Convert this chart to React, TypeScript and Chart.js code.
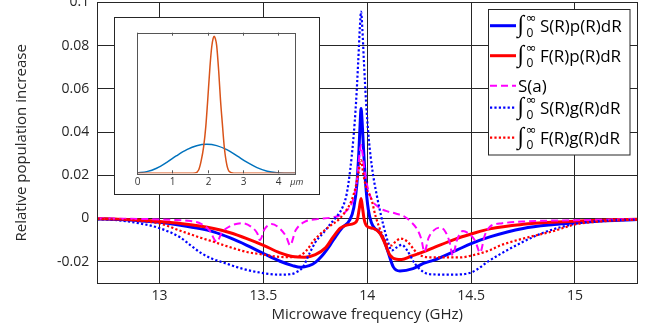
import React, { useEffect, useRef } from "react";
import { Chart, registerables } from "chart.js";

Chart.register(...registerables);

// ---------- axis ticks / labels ----------
const xTickValues = [13, 13.5, 14, 14.5, 15];
const yTickValues = [-0.02, 0, 0.02, 0.04, 0.06, 0.08, 0.1];
const xTitle = "Microwave frequency (GHz)";
const yTitle = "Relative population increase";

// ---------- series: ∫S(R)p(R)dR (blue solid) ----------
const spFreq = [12.7, 12.8, 12.9, 13.0, 13.1, 13.2, 13.26, 13.34, 13.42, 13.5, 13.58, 13.64, 13.68, 13.72, 13.75, 13.78, 13.82, 13.85, 13.88, 13.915, 13.935, 13.95, 13.96, 13.966, 13.97, 13.975, 13.982, 13.992, 14.005, 14.02, 14.035, 14.055, 14.077, 14.1, 14.125, 14.157, 14.22, 14.27, 14.32, 14.43, 14.5, 14.59, 14.75, 14.9, 15.0, 15.15, 15.3];
const spVals = [-0.0002, -0.0005, -0.001, -0.0018, -0.0031, -0.0048, -0.0062, -0.009, -0.0124, -0.0162, -0.0198, -0.0218, -0.0226, -0.0218, -0.0203, -0.0175, -0.0124, -0.008, -0.0042, -0.0008, 0.005, 0.016, 0.032, 0.045, 0.0509, 0.045, 0.032, 0.016, 0.004, -0.002, -0.0045, -0.006, -0.0093, -0.0155, -0.0224, -0.0243, -0.0232, -0.0208, -0.0193, -0.0147, -0.0116, -0.0085, -0.0046, -0.0028, -0.002, -0.001, -0.0005];

// ---------- series: ∫F(R)p(R)dR (red solid) ----------
const fpFreq = [12.7, 12.8, 12.9, 13.0, 13.1, 13.26, 13.34, 13.42, 13.5, 13.58, 13.64, 13.7, 13.75, 13.8, 13.836, 13.87, 13.9, 13.935, 13.952, 13.962, 13.97, 13.977, 13.985, 13.997, 14.029, 14.061, 14.085, 14.109, 14.141, 14.165, 14.21, 14.27, 14.32, 14.43, 14.5, 14.59, 14.75, 14.9, 15.0, 15.15, 15.3];
const fpVals = [-0.0001, -0.0003, -0.0007, -0.0014, -0.0023, -0.0046, -0.0066, -0.0093, -0.0124, -0.0159, -0.0176, -0.0179, -0.0167, -0.0135, -0.0085, -0.0045, -0.0031, -0.0023, -0.0005, 0.005, 0.0093, 0.005, -0.0005, -0.0035, -0.0046, -0.0069, -0.0116, -0.017, -0.0189, -0.019, -0.0175, -0.0155, -0.0135, -0.0093, -0.0072, -0.0048, -0.0027, -0.0017, -0.0013, -0.0007, -0.0004];

// ---------- series: S(a) (magenta dashed) ----------
const saFreq = [12.7, 12.9, 13.05, 13.15, 13.2, 13.24, 13.275, 13.3, 13.34, 13.4, 13.44, 13.47, 13.483, 13.505, 13.54, 13.58, 13.61, 13.628, 13.655, 13.7, 13.76, 13.82, 13.87, 13.9, 13.925, 13.945, 13.955, 13.963, 13.97, 13.977, 13.987, 14.0, 14.02, 14.05, 14.09, 14.14, 14.18, 14.21, 14.24, 14.26, 14.275, 14.295, 14.32, 14.35, 14.375, 14.395, 14.412, 14.43, 14.46, 14.495, 14.52, 14.543, 14.565, 14.59, 14.65, 14.75, 15.0, 15.3];
const saVals = [0, -0.0002, -0.0006, -0.0012, -0.0025, -0.0055, -0.0108, -0.0065, -0.0035, -0.0022, -0.0038, -0.0068, -0.01, -0.005, -0.0026, -0.0048, -0.0085, -0.0124, -0.0055, -0.0015, -0.0003, 0.0003, 0.0015, 0.0035, 0.007, 0.014, 0.022, 0.03, 0.034, 0.03, 0.022, 0.015, 0.009, 0.0055, 0.0035, 0.0022, 0.0008, -0.0015, -0.005, -0.0095, -0.0155, -0.009, -0.0055, -0.0042, -0.006, -0.0105, -0.0172, -0.0105, -0.0058, -0.0075, -0.0105, -0.0158, -0.008, -0.0038, -0.0022, -0.0014, -0.0008, -0.0003];

// ---------- series: ∫S(R)g(R)dR (blue dotted) ----------
const sgFreq = [12.7, 12.8, 12.9, 13.0, 13.1, 13.15, 13.2, 13.25, 13.31, 13.4, 13.5, 13.58, 13.63, 13.66, 13.69, 13.72, 13.75, 13.79, 13.82, 13.853, 13.88, 13.9, 13.917, 13.933, 13.946, 13.956, 13.964, 13.97, 13.976, 13.984, 13.994, 14.007, 14.025, 14.045, 14.06, 14.077, 14.1, 14.118, 14.14, 14.166, 14.19, 14.23, 14.27, 14.3, 14.4, 14.46, 14.5, 14.53, 14.58, 14.64, 14.75, 14.85, 15.0, 15.15, 15.3];
const sgVals = [-0.0003, -0.0008, -0.0022, -0.0045, -0.0088, -0.0125, -0.016, -0.0185, -0.0205, -0.0233, -0.0253, -0.026, -0.0258, -0.0248, -0.0225, -0.0165, -0.011, -0.0065, -0.0028, 0.001, 0.005, 0.011, 0.022, 0.037, 0.054, 0.072, 0.088, 0.0957, 0.088, 0.072, 0.054, 0.037, 0.022, 0.011, 0.004, -0.003, -0.011, -0.0148, -0.0135, -0.0122, -0.0145, -0.021, -0.0247, -0.0258, -0.026, -0.0258, -0.025, -0.0235, -0.02, -0.0165, -0.0108, -0.0065, -0.0025, -0.001, -0.0005];

// ---------- series: ∫F(R)g(R)dR (red dotted) ----------
const fgFreq = [12.7, 12.8, 12.9, 13.0, 13.1, 13.2, 13.26, 13.31, 13.42, 13.5, 13.58, 13.63, 13.676, 13.71, 13.74, 13.77, 13.82, 13.87, 13.9, 13.925, 13.945, 13.957, 13.97, 13.98, 13.993, 14.021, 14.04, 14.07, 14.1, 14.115, 14.135, 14.16, 14.19, 14.24, 14.27, 14.3, 14.45, 14.5, 14.59, 14.64, 14.75, 14.89, 15.0, 15.15, 15.3];
const fgVals = [-0.0002, -0.0005, -0.0011, -0.0023, -0.0057, -0.009, -0.0108, -0.0124, -0.0155, -0.0167, -0.0178, -0.0179, -0.0172, -0.0145, -0.0105, -0.0075, -0.0035, 0.0002, 0.004, 0.0085, 0.015, 0.021, 0.027, 0.021, 0.015, 0.0085, 0.001, -0.007, -0.0122, -0.0125, -0.0108, -0.0093, -0.0105, -0.016, -0.0176, -0.018, -0.018, -0.0172, -0.0147, -0.0125, -0.0093, -0.006, -0.0028, -0.0012, -0.0005];

// ---------- legend ----------
const legendLabels = ["S(R)p(R)dR", "F(R)p(R)dR", "S(a)", "S(R)g(R)dR", "F(R)g(R)dR"];
const legendIsIntegral = [true, true, false, true, true];

// ---------- inset ----------
const insetTickValues = [0, 1, 2, 3, 4];
const insetUnit = "μm";
const insetBlueX = [0, 0.27, 0.55, 0.84, 1.12, 1.41, 1.69, 1.98, 2.26, 2.55, 2.84, 3.12, 3.41, 3.7, 3.98, 4.2, 4.5];
const insetBlueY = [0.003, 0.012, 0.036, 0.078, 0.125, 0.168, 0.196, 0.206, 0.197, 0.168, 0.124, 0.079, 0.04, 0.015, 0.004, 0.001, 0];
const insetOrangeX = [0, 1.5, 1.65, 1.75, 1.82, 1.89, 1.95, 2.0, 2.07, 2.12, 2.16, 2.19, 2.22, 2.26, 2.32, 2.37, 2.42, 2.48, 2.55, 2.62, 2.75, 4.5];
const insetOrangeY = [0, 0, 0.002, 0.025, 0.09, 0.19, 0.33, 0.5, 0.76, 0.9, 0.96, 0.975, 0.96, 0.91, 0.72, 0.52, 0.36, 0.18, 0.06, 0.012, 0, 0];

const FONT = "'Open Sans', 'Noto Sans', sans-serif";
const AX = "#262626";

const pts = (xs: number[], ys: number[]) => xs.map((x, i) => ({ x, y: ys[i] }));

const framePlugin = {
  id: "frameAndLegend",
  afterDraw(chart: any) {
    const { ctx, chartArea } = chart;
    const { left, top, right, bottom } = chartArea;
    ctx.save();
    ctx.strokeStyle = AX;
    ctx.lineWidth = 1;
    ctx.strokeRect(Math.round(left) + 0.5, Math.round(top) + 0.5, Math.round(right - left), Math.round(bottom - top));

    // legend box
    const bx = 488.5, by = 9.5, bw = 141.5, bh = 145.5;
    ctx.fillStyle = "#fff";
    ctx.fillRect(bx, by, bw, bh);
    ctx.strokeStyle = AX;
    ctx.strokeRect(bx, by, bw, bh);

    let y = by + 16.2;
    chart.data.datasets.forEach((ds: any, i: number) => {
      if (i > 0) {
        const prevInt = legendIsIntegral[i - 1];
        y += (prevInt ? 19 : 11) + 11;
      }
      ctx.save();
      ctx.strokeStyle = ds.borderColor;
      ctx.lineWidth = ds.borderWidth;
      ctx.setLineDash(ds.borderDash || []);
      ctx.beginPath();
      ctx.moveTo(490, y);
      ctx.lineTo(516, y);
      ctx.stroke();
      ctx.restore();

      ctx.fillStyle = "#000";
      ctx.textAlign = "left";
      ctx.textBaseline = "alphabetic";
      if (legendIsIntegral[i]) {
        ctx.font = "italic 24px 'Liberation Serif'";
        ctx.fillText("∫", 517.5, y + 6);
        ctx.font = "13px 'DejaVu Sans'";
        ctx.fillText("∞", 525.5, y - 4);
        ctx.font = `12px ${FONT}`;
        ctx.fillText("0", 526.5, y + 11.5);
        ctx.font = `17px ${FONT}`;
        ctx.fillText(legendLabels[i], 540, y + 6);
      } else {
        ctx.font = `17px ${FONT}`;
        ctx.fillText(legendLabels[i], 518, y + 6);
      }
    });
    ctx.restore();
  },
};

const insetPlugin = {
  id: "insetDeco",
  beforeDraw(chart: any) {
    const { ctx, width, height } = chart;
    ctx.save();
    ctx.fillStyle = "#fff";
    ctx.fillRect(0, 0, width, height);
    ctx.strokeStyle = AX;
    ctx.lineWidth = 1;
    ctx.strokeRect(0.5, 0.5, width - 1, height - 1);
    ctx.restore();
  },
  afterDraw(chart: any) {
    const { ctx, chartArea } = chart;
    const { left, top, right, bottom } = chartArea;
    ctx.save();
    ctx.strokeStyle = "#555";
    ctx.lineWidth = 1;
    ctx.strokeRect(Math.round(left) + 0.5, Math.round(top) + 0.5, Math.round(right - left), Math.round(bottom - top));
    const sx = chart.scales.x;
    ctx.fillStyle = "#333";
    ctx.font = `10px ${FONT}`;
    ctx.textAlign = "center";
    ctx.textBaseline = "middle";
    insetTickValues.forEach((v) => {
      const px = Math.round(sx.getPixelForValue(v)) + 0.5;
      ctx.beginPath();
      ctx.moveTo(px, top);
      ctx.lineTo(px, top + 3);
      ctx.moveTo(px, bottom);
      ctx.lineTo(px, bottom - 3);
      ctx.stroke();
      ctx.fillText(String(v), px, bottom + 9);
    });
    ctx.font = `italic 9px ${FONT}`;
    ctx.textAlign = "left";
    ctx.fillText(insetUnit, right - 5, bottom + 9);
    ctx.restore();
  },
};

export default function App() {
  const mainRef = useRef<HTMLCanvasElement>(null);
  const insetRef = useRef<HTMLCanvasElement>(null);

  useEffect(() => {
    const line = (xs: number[], ys: number[], color: string, width: number, dash: number[], order: number) => ({
      data: pts(xs, ys),
      borderColor: color,
      borderWidth: width,
      borderDash: dash,
      pointRadius: 0,
      fill: false,
      cubicInterpolationMode: "monotone" as const,
      order,
    });

    const main = new Chart(mainRef.current!, {
      type: "line",
      data: {
        datasets: [
          line(spFreq, spVals, "#0000FF", 3, [], 5),
          line(fpFreq, fpVals, "#FF0000", 3, [], 4),
          line(saFreq, saVals, "#FF00FF", 2, [7, 4], 3),
          line(sgFreq, sgVals, "#0000FF", 2.2, [2.2, 2.2], 2),
          line(fgFreq, fgVals, "#FF0000", 2.2, [2.2, 2.2], 1),
        ],
      },
      options: {
        responsive: false,
        animation: false,
        devicePixelRatio: 1,
        layout: { padding: { top: 2.4, right: 16.7, left: 0, bottom: 0 } },
        plugins: { legend: { display: false }, tooltip: { enabled: false } },
        scales: {
          x: {
            type: "linear",
            min: 12.7,
            max: 15.3,
            afterBuildTicks: (s: any) => {
              s.ticks = xTickValues.map((v) => ({ value: v }));
            },
            afterFit: (s: any) => {
              s.height = 48.7;
              s.paddingLeft = 0;
              s.paddingRight = 0;
            },
            grid: { color: AX, lineWidth: 1, drawTicks: false },
            border: { display: true, color: AX },
            ticks: {
              color: AX,
              font: { family: FONT, size: 14 },
              padding: 4,
              maxRotation: 0,
              callback: (v: any) => String(v),
            },
            title: { display: true, text: xTitle, color: AX, font: { family: FONT, size: 15 }, padding: { top: 0, bottom: 8 } },
          },
          y: {
            type: "linear",
            min: -0.03,
            max: 0.1,
            afterBuildTicks: (s: any) => {
              s.ticks = yTickValues.map((v) => ({ value: v }));
            },
            afterFit: (s: any) => {
              s.width = 97.3;
              s.paddingTop = 0;
              s.paddingBottom = 0;
            },
            grid: { color: AX, lineWidth: 1, drawTicks: false },
            border: { display: true, color: AX },
            ticks: {
              color: AX,
              font: { family: FONT, size: 14 },
              padding: 8,
              callback: (v: any) => String(v),
            },
            title: { display: true, text: yTitle, color: AX, font: { family: FONT, size: 15 }, padding: { top: 12.5, bottom: 0 } },
          },
        },
      },
      plugins: [framePlugin],
    });

    const inset = new Chart(insetRef.current!, {
      type: "line",
      data: {
        datasets: [
          { data: pts(insetBlueX, insetBlueY), borderColor: "#0072BD", borderWidth: 1.5, pointRadius: 0, cubicInterpolationMode: "monotone", order: 2 },
          { data: pts(insetOrangeX, insetOrangeY), borderColor: "#D95319", borderWidth: 1.5, pointRadius: 0, cubicInterpolationMode: "monotone", order: 1 },
        ],
      },
      options: {
        responsive: false,
        animation: false,
        devicePixelRatio: 1,
        layout: { padding: { left: 23.3, top: 15.7, right: 24.7, bottom: 21.7 } },
        plugins: { legend: { display: false }, tooltip: { enabled: false } },
        scales: {
          x: { type: "linear", min: 0, max: 4.5, display: false },
          y: { type: "linear", min: 0, max: 1, display: false },
        },
      },
      plugins: [insetPlugin],
    });

    return () => {
      main.destroy();
      inset.destroy();
    };
  }, []);

  return (
    <div style={{ position: "absolute", left: 0, top: 0, width: 654, height: 332, overflow: "hidden", background: "#fff" }}>
      <canvas ref={mainRef} width={654} height={332} style={{ position: "absolute", left: 0, top: 0, width: 654, height: 332 }} />
      <canvas ref={insetRef} width={206} height={178} style={{ position: "absolute", left: 114, top: 17, width: 206, height: 178 }} />
    </div>
  );
}
